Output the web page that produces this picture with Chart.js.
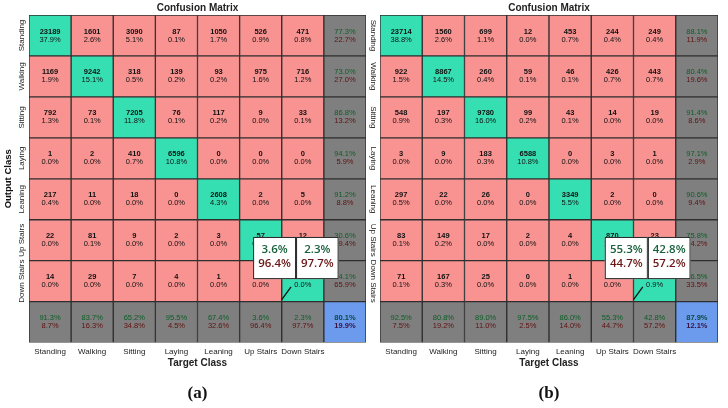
<!DOCTYPE html>
<html>
<head>
<meta charset="utf-8">
<script src="https://cdn.jsdelivr.net/npm/chart.js@4.4.1/dist/chart.umd.min.js"></script>
<style>
  html, body { margin: 0; padding: 0; background: #fff; }
  body { width: 728px; height: 408px; position: relative; overflow: hidden; }
  canvas { position: absolute; top: 0; }
  #cmA { left: 0; }
  #cmB { left: 366px; }
</style>
</head>
<body>
<canvas id="cmA" width="368" height="408"></canvas>
<canvas id="cmB" width="362" height="408"></canvas>
<script>
const classes = ["Standing", "Walking", "Sitting", "Laying", "Leaning", "Up Stairs", "Down Stairs"];

// rows = output class, columns = target class
const countsA = [
    [23189, 1601, 3090, 87, 1050, 526, 471],
    [1169, 9242, 318, 139, 93, 975, 716],
    [792, 73, 7205, 76, 117, 9, 33],
    [1, 2, 410, 6596, 0, 0, 0],
    [217, 11, 18, 0, 2608, 2, 5],
    [22, 81, 9, 2, 3, 57, 12],
    [14, 29, 7, 4, 1, 1, 29],
];

const countsB = [
    [23714, 1560, 699, 12, 453, 244, 249],
    [922, 8867, 260, 59, 46, 426, 443],
    [548, 197, 9780, 99, 43, 14, 19],
    [3, 9, 183, 6588, 0, 3, 1],
    [297, 22, 26, 0, 3349, 2, 0],
    [83, 149, 17, 2, 4, 870, 23],
    [71, 167, 25, 0, 1, 13, 550],
];

// the two zoomed call-outs repeat these target columns
const calloutCols = [5, 6];

const FONT = "'Liberation Sans', Arial, sans-serif";
const GREEN_CELL = "#36dfb2";
const RED_CELL = "#f89391";
const GREY_CELL = "#7f7f7f";
const BLUE_CELL = "#6c9bee";
const GOOD_TEXT = "#0a5e25";
const BAD_TEXT = "#621010";

function pct(v) {
    return (v * 100).toFixed(1) + "%";
}

function cellColors(r, n) {
    const out = [];
    for (let c = 0; c <= n; c++) {
        if (r === n && c === n) out.push(BLUE_CELL);
        else if (r === n || c === n) out.push(GREY_CELL);
        else out.push(r === c ? GREEN_CELL : RED_CELL);
    }
    return out;
}

const cellText = {
    id: "cellText",
    afterDatasetsDraw(chart, args, opts) {
        const { ctx } = chart;
        const x = chart.scales.x;
        const y = chart.scales.y;
        const m = opts.counts;
        const n = m.length;
        const rowSum = m.map((row) => row.reduce((a, b) => a + b, 0));
        const colSum = m[0].map((_, c) => m.reduce((a, row) => a + row[c], 0));
        const total = rowSum.reduce((a, b) => a + b, 0);
        let diag = 0;
        for (let i = 0; i < n; i++) diag += m[i][i];

        ctx.save();
        ctx.textAlign = "center";
        ctx.textBaseline = "middle";

        for (let r = 0; r < n; r++) {
            for (let c = 0; c < n; c++) {
                const px = x.getPixelForValue(c);
                const py = y.getPixelForValue(r);
                ctx.fillStyle = "#111";
                ctx.font = "bold 7.5px " + FONT;
                ctx.fillText(String(m[r][c]), px, py - 4);
                ctx.font = "7.5px " + FONT;
                ctx.fillText(pct(m[r][c] / total), px, py + 4);
            }
        }

        function summary(px, py, good) {
            ctx.font = "7.5px " + FONT;
            ctx.fillStyle = GOOD_TEXT;
            ctx.fillText(pct(good), px, py - 4);
            ctx.fillStyle = BAD_TEXT;
            ctx.fillText(pct(1 - good), px, py + 4);
        }

        for (let r = 0; r < n; r++) {
            summary(x.getPixelForValue(n), y.getPixelForValue(r), m[r][r] / rowSum[r]);
        }
        for (let c = 0; c < n; c++) {
            summary(x.getPixelForValue(c), y.getPixelForValue(n), m[c][c] / colSum[c]);
        }
        ctx.font = "bold 7.5px " + FONT;
        ctx.fillStyle = "#0b4a3a";
        ctx.fillText(pct(diag / total), x.getPixelForValue(n), y.getPixelForValue(n) - 4);
        ctx.fillStyle = "#3a1240";
        ctx.fillText(pct(1 - diag / total), x.getPixelForValue(n), y.getPixelForValue(n) + 4);

        // vertical row labels
        ctx.fillStyle = "#222";
        ctx.font = "8px " + FONT;
        for (let r = 0; r < n; r++) {
            ctx.save();
            ctx.translate(opts.labelX, y.getPixelForValue(r));
            ctx.rotate(opts.labelRot);
            ctx.fillText(classes[r], 0, 0);
            ctx.restore();
        }

        // leader line of the call-out
        ctx.strokeStyle = "#111";
        ctx.lineWidth = 1.3;
        ctx.beginPath();
        ctx.moveTo(x.getPixelForValue(5.5), y.getPixelForValue(6.45));
        ctx.lineTo(x.getPixelForValue(5.72), y.getPixelForValue(6.14));
        ctx.stroke();

        // zoomed call-out boxes
        const edges = [4.82, 5.84, 6.85];
        const top = y.getPixelForValue(4.92);
        const bottom = y.getPixelForValue(5.95);
        calloutCols.forEach((c, i) => {
            const l = x.getPixelForValue(edges[i]);
            const rr = x.getPixelForValue(edges[i + 1]);
            ctx.fillStyle = "#fff";
            ctx.fillRect(l, top, rr - l, bottom - top);
            ctx.strokeStyle = "#222";
            ctx.lineWidth = 1;
            ctx.strokeRect(l + 0.5, top + 0.5, rr - l - 1, bottom - top - 1);
            const good = m[c][c] / colSum[c];
            const cx = (l + rr) / 2;
            ctx.font = "600 11.5px 'Open Sans', sans-serif";
            ctx.fillStyle = "#17603a";
            ctx.fillText(pct(good), cx, y.getPixelForValue(5.22));
            ctx.fillStyle = "#6a1616";
            ctx.fillText(pct(1 - good), cx, y.getPixelForValue(5.57));
        });

        ctx.restore();
    },
};

function createMatrix(canvasId, counts, tag, cfg) {
    const n = counts.length;
    const datasets = [];
    for (let r = 0; r <= n; r++) {
        datasets.push({
            data: Array.from({ length: n + 1 }, () => [r - 0.5, r + 0.5]),
            backgroundColor: cellColors(r, n),
            borderColor: "#2e2e2e",
            borderWidth: 1,
            borderSkipped: false,
            grouped: false,
            barPercentage: 1,
            categoryPercentage: 1,
        });
    }

    new Chart(document.getElementById(canvasId), {
        type: "bar",
        data: {
            labels: [...classes, ""],
            datasets: datasets,
        },
        options: {
            responsive: false,
            animation: false,
            events: [],
            layout: {
                padding: { left: 0, right: cfg.padRight, top: 0, bottom: 0 },
            },
            plugins: {
                legend: { display: false },
                tooltip: { enabled: false },
                title: {
                    display: true,
                    text: "Confusion Matrix",
                    fullSize: false,
                    color: "#222",
                    font: { family: FONT, size: 10, weight: "bold" },
                    padding: { top: 2, bottom: 1 },
                },
                subtitle: {
                    display: true,
                    position: "bottom",
                    text: tag,
                    fullSize: false,
                    color: "#111",
                    font: { family: "'Liberation Serif', serif", size: 17, weight: "bold" },
                    padding: { top: 13, bottom: 4 },
                },
                cellText: {
                    counts: counts,
                    labelX: cfg.labelX,
                    labelRot: cfg.labelRot,
                },
            },
            scales: {
                x: {
                    grid: { display: false, drawTicks: false },
                    border: { display: false },
                    ticks: {
                        color: "#222",
                        font: { family: FONT, size: 8 },
                        padding: 4,
                        maxRotation: 0,
                        minRotation: 0,
                        autoSkip: false,
                    },
                    title: {
                        display: true,
                        text: "Target Class",
                        color: "#222",
                        font: { family: FONT, size: 10, weight: "bold" },
                        padding: { top: 0, bottom: 1 },
                    },
                    afterFit(scale) {
                        scale.height = 28;
                    },
                },
                y: {
                    type: "linear",
                    min: -0.5,
                    max: n + 0.5,
                    reverse: true,
                    grid: { display: false, drawTicks: false },
                    border: { display: false },
                    ticks: { display: false },
                    title: {
                        display: cfg.showYTitle,
                        text: "Output Class",
                        color: "#111",
                        font: { family: FONT, size: 9.5, weight: "bold" },
                        padding: { top: 3, bottom: 0 },
                    },
                    afterFit(scale) {
                        scale.width = cfg.yWidth;
                    },
                },
            },
        },
        plugins: [cellText],
    });
}

createMatrix("cmA", countsA, "(a)", { padRight: 2, yWidth: 29, showYTitle: true, labelX: 22, labelRot: -Math.PI / 2 });
createMatrix("cmB", countsB, "(b)", { padRight: 10, yWidth: 14, showYTitle: false, labelX: 7, labelRot: Math.PI / 2 });
</script>
</body>
</html>
